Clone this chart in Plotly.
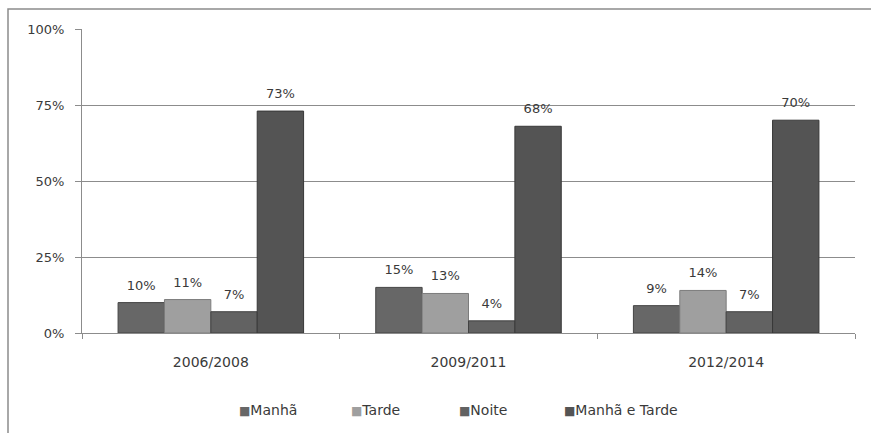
import plotly.graph_objects as go

categories = ["2006/2008", "2009/2011", "2012/2014"]
series_names = ["Manhã", "Tarde", "Noite", "Manhã e Tarde"]
manha = [10, 15, 9]
tarde = [11, 13, 14]
noite = [7, 4, 7]
manha_tarde = [73, 68, 70]
y_ticks = [0, 25, 50, 75, 100]
y_tick_labels = ["0%", "25%", "50%", "75%", "100%"]

series_values = [manha, tarde, noite, manha_tarde]
colors = ["#676767", "#9f9f9f", "#626262", "#545454"]
line_colors = ["#454545", "#7c7c7c", "#424242", "#383838"]
legend_x = [0.2005, 0.346, 0.485, 0.621]

fig = go.Figure()
for i, (name, vals, c, lc) in enumerate(zip(series_names, series_values, colors, line_colors)):
    fig.add_trace(go.Bar(
        x=categories, y=vals, name=name,
        marker=dict(color=c, line=dict(color=lc, width=1)),
        offsetgroup=str(i), alignmentgroup="a",
        showlegend=False,
    ))
for i, (name, vals) in enumerate(zip(series_names, series_values)):
    fig.add_trace(go.Scatter(
        x=categories, y=vals, mode="markers+text",
        text=[f"{v}%" for v in vals], textposition="top center",
        marker=dict(size=14, opacity=0),
        offsetgroup=str(i), alignmentgroup="s",
        textfont=dict(family="DejaVu Sans", size=13, color="#3a3a3a"),
        cliponaxis=False, showlegend=False, hoverinfo="skip",
    ))

# legend drawn as text entries
for name, c, lx in zip(series_names, colors, legend_x):
    fig.add_annotation(
        xref="paper", yref="paper", x=lx, y=-0.253, xanchor="left", yanchor="middle",
        text=f"<span style='color:{c};font-size:12px'>■</span>{name}",
        showarrow=False, font=dict(family="DejaVu Sans", size=14, color="#3a3a3a"),
    )

fig.update_layout(
    width=871, height=433,
    margin=dict(l=82, r=16, t=29, b=100),
    paper_bgcolor="white", plot_bgcolor="white",
    barmode="group", bargap=0.28, bargroupgap=0,
    scattermode="group", scattergap=0.28,
    font=dict(family="DejaVu Sans", size=13, color="#3a3a3a"),
    showlegend=False,
)
fig.update_xaxes(
    showline=True, linecolor="#8c8c8c", linewidth=1,
    ticks="outside", ticklen=5, tickcolor="#8c8c8c", tickson="boundaries",
    ticklabelstandoff=16, showgrid=False,
    tickfont=dict(family="DejaVu Sans", size=14, color="#3a3a3a"),
)
fig.update_yaxes(
    range=[0, 100], tickvals=y_ticks, ticktext=y_tick_labels,
    showline=True, linecolor="#8c8c8c", linewidth=1,
    ticks="outside", ticklen=6, tickcolor="#8c8c8c",
    showgrid=True, gridcolor="#8c8c8c", gridwidth=1,
    zeroline=False, ticklabelstandoff=8,
    tickfont=dict(family="DejaVu Sans", size=13, color="#3a3a3a"),
)
# outer chart frame
fig.add_shape(type="rect", xref="paper", yref="paper",
              x0=(8 - 82) / 773, x1=1.1, y0=-0.4, y1=1 + (29 - 9) / 304,
              line=dict(color="#8c8c8c", width=1.5), fillcolor="rgba(0,0,0,0)", layer="below")

fig.write_html("out.html")
